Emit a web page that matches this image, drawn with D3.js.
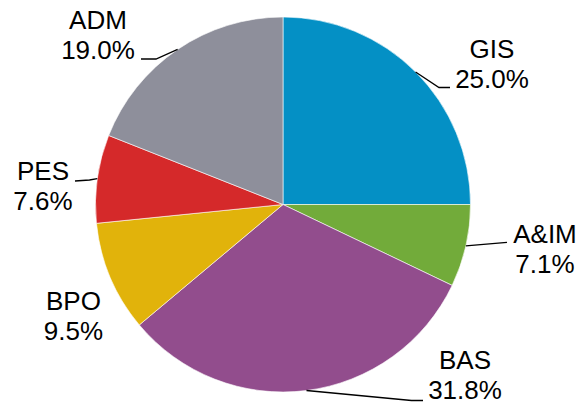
<!DOCTYPE html>
<html>
<head>
<meta charset="utf-8">
<script src="https://cdn.jsdelivr.net/npm/d3@7"></script>
<style>
  html, body { margin: 0; padding: 0; background: #fff; }
  svg { display: block; }
  text { font-family: "Liberation Sans", Arial, sans-serif; font-size: 26px; fill: #000; }
</style>
</head>
<body>
<svg id="chart" width="581" height="402"></svg>
<script>
// Data
const categories = ["GIS", "A&IM", "BAS", "BPO", "PES", "ADM"];
const values = [25.0, 7.1, 31.8, 9.5, 7.6, 19.0];
const colors = ["#0490C5", "#72AB3A", "#924D8D", "#E1B30B", "#D5292A", "#8E8F9B"];

// Label layout (pixels): text centre x, first baseline y, leader elbow & end (null = no leader)
const labelLayout = [
  { x: 492, y: 58,  elbow: [439, 87.5], end: [450, 87.5] },
  { x: 545, y: 243, elbow: null, end: [507, 242.3] },
  { x: 465, y: 369, elbow: [411.5, 400.5], end: [423, 400.5] },
  { x: 73.5, y: 310, noLeader: true },
  { x: 43,  y: 179.5, elbow: [89.5, 180], end: [75, 181] },
  { x: 98,  y: 28.5, elbow: [156, 59], end: [141, 59] }
];

const width = 581, height = 402;
const cx = 283, cy = 204.5, R = 187.5;
const lineGap = 30;

const svg = d3.select("#chart");
const g = svg.append("g").attr("transform", `translate(${cx},${cy})`);

const data = categories.map((c, i) => ({ name: c, value: values[i], color: colors[i], layout: labelLayout[i] }));

const pie = d3.pie().sort(null).value(d => d.value).startAngle(0).endAngle(2 * Math.PI);
const arcs = pie(data);
const arc = d3.arc().innerRadius(0).outerRadius(R);
const edgeArc = d3.arc().innerRadius(R).outerRadius(R);

g.selectAll("path.slice")
  .data(arcs)
  .join("path")
  .attr("class", "slice")
  .attr("d", arc)
  .attr("fill", d => d.data.color)
  .attr("stroke", "#ffffff")
  .attr("stroke-width", 0.6);

// Leader lines
const lineGen = d3.line();
svg.selectAll("path.leader")
  .data(arcs.filter(d => !d.data.layout.noLeader))
  .join("path")
  .attr("class", "leader")
  .attr("d", d => {
    const c = edgeArc.centroid(d);
    const start = [cx + c[0], cy + c[1]];
    const L = d.data.layout;
    const pts = [start];
    if (L.elbow) pts.push(L.elbow);
    pts.push(L.end);
    return lineGen(pts);
  })
  .attr("fill", "none")
  .attr("stroke", "#000")
  .attr("stroke-width", 1.3);

// Labels
const fmt = d3.format(".1f");
const labels = svg.selectAll("g.label")
  .data(arcs)
  .join("g")
  .attr("class", "label");

labels.append("text")
  .attr("x", d => d.data.layout.x)
  .attr("y", d => d.data.layout.y)
  .attr("text-anchor", "middle")
  .text(d => d.data.name);

labels.append("text")
  .attr("x", d => d.data.layout.x)
  .attr("y", d => d.data.layout.y + lineGap)
  .attr("text-anchor", "middle")
  .text(d => fmt(d.data.value) + "%");
</script>
</body>
</html>
